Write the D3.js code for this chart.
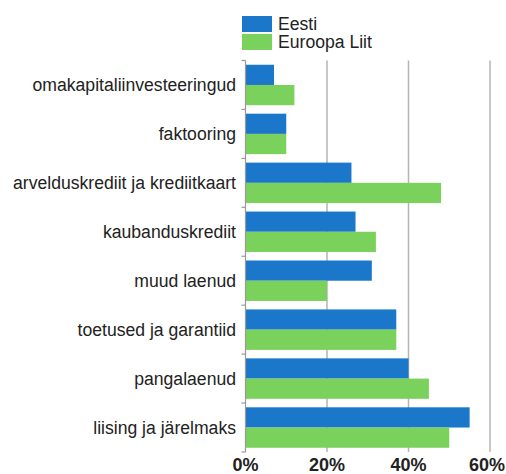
<!DOCTYPE html>
<html>
<head>
<meta charset="utf-8">
<script src="https://cdn.jsdelivr.net/npm/d3@7"></script>
<style>
  body { margin: 0; background: #fff; }
  text { font-family: "Liberation Sans", Arial, sans-serif; fill: #222; }
</style>
</head>
<body>
<svg id="svg"></svg>
<script>
var categories = ["omakapitaliinvesteeringud", "faktooring", "arvelduskrediit ja krediitkaart",
  "kaubanduskrediit", "muud laenud", "toetused ja garantiid", "pangalaenud", "liising ja järelmaks"];
var eesti = [7, 10, 26, 27, 31, 37, 40, 55];
var euroopaLiit = [12, 10, 48, 32, 20, 37, 45, 50];
var seriesNames = ["Eesti", "Euroopa Liit"];
var seriesColors = ["#1a77c9", "#7ad15b"];
var xTicks = [0, 20, 40, 60];

var width = 506, height = 474;
var margin = {top: 60.5, right: 14, bottom: 22, left: 245.5};

var svg = d3.select("#svg")
    .attr("width", width)
    .attr("height", height);

var x = d3.scaleLinear().domain([0, 60]).range([margin.left, 490]);
var y = d3.scaleBand().domain(categories).range([margin.top, height - margin.bottom]);
var inner = d3.scaleBand().domain(seriesNames).range([0, y.bandwidth()]).paddingOuter(0.21).paddingInner(0);

// gridlines
svg.append("g")
  .selectAll("line")
  .data(xTicks.slice(1))
  .enter().append("line")
    .attr("x1", function(d) { return x(d); })
    .attr("x2", function(d) { return x(d); })
    .attr("y1", margin.top)
    .attr("y2", height - margin.bottom)
    .attr("stroke", "#b4b4b4")
    .attr("stroke-width", 1.5);

var rows = categories.map(function(c, i) {
  return {cat: c, values: [eesti[i], euroopaLiit[i]]};
});

var group = svg.append("g")
  .selectAll("g")
  .data(rows)
  .enter().append("g")
    .attr("transform", function(d) { return "translate(0," + y(d.cat) + ")"; });

group.selectAll("rect")
  .data(function(d) { return d.values.map(function(v, j) { return {v: v, s: seriesNames[j], c: seriesColors[j]}; }); })
  .enter().append("rect")
    .attr("x", x(0))
    .attr("y", function(d) { return inner(d.s); })
    .attr("width", function(d) { return x(d.v) - x(0); })
    .attr("height", inner.bandwidth())
    .attr("fill", function(d) { return d.c; });

// y axis with ticks at band edges
var yAxis = svg.append("g");
yAxis.append("line")
    .attr("x1", x(0)).attr("x2", x(0))
    .attr("y1", margin.top).attr("y2", height - margin.bottom)
    .attr("stroke", "#999").attr("stroke-width", 1.2);
yAxis.selectAll(".tk")
  .data(categories.concat(["end"]))
  .enter().append("line")
    .attr("x1", x(0) - 4).attr("x2", x(0))
    .attr("y1", function(d, i) { return margin.top + i * y.step(); })
    .attr("y2", function(d, i) { return margin.top + i * y.step(); })
    .attr("stroke", "#999").attr("stroke-width", 1.2);

yAxis.selectAll("text")
  .data(categories)
  .enter().append("text")
    .attr("x", 236)
    .attr("y", function(d) { return y(d) + y.bandwidth() / 2; })
    .attr("dy", "0.35em")
    .attr("text-anchor", "end")
    .style("font-size", "17.6px")
    .text(function(d) { return d; });

// x tick labels (last one kept inside the window)
svg.append("g")
  .selectAll("text")
  .data(xTicks)
  .enter().append("text")
    .attr("x", function(d, i) { return i === xTicks.length - 1 ? width - 1 : x(d); })
    .attr("y", 471)
    .attr("text-anchor", function(d, i) { return i === xTicks.length - 1 ? "end" : "middle"; })
    .style("font-size", "18px")
    .style("font-weight", "bold")
    .text(function(d) { return d + "%"; });

// legend
var legend = svg.append("g")
  .selectAll("g")
  .data(seriesNames)
  .enter().append("g")
    .attr("transform", function(d, i) { return "translate(242," + (16 + i * 18) + ")"; });
legend.append("rect")
    .attr("width", 30)
    .attr("height", 16)
    .attr("fill", function(d, i) { return seriesColors[i]; });
legend.append("text")
    .attr("x", 36)
    .attr("y", 8)
    .attr("dy", "0.35em")
    .style("font-size", "17.6px")
    .text(function(d) { return d; });
</script>
</body>
</html>
